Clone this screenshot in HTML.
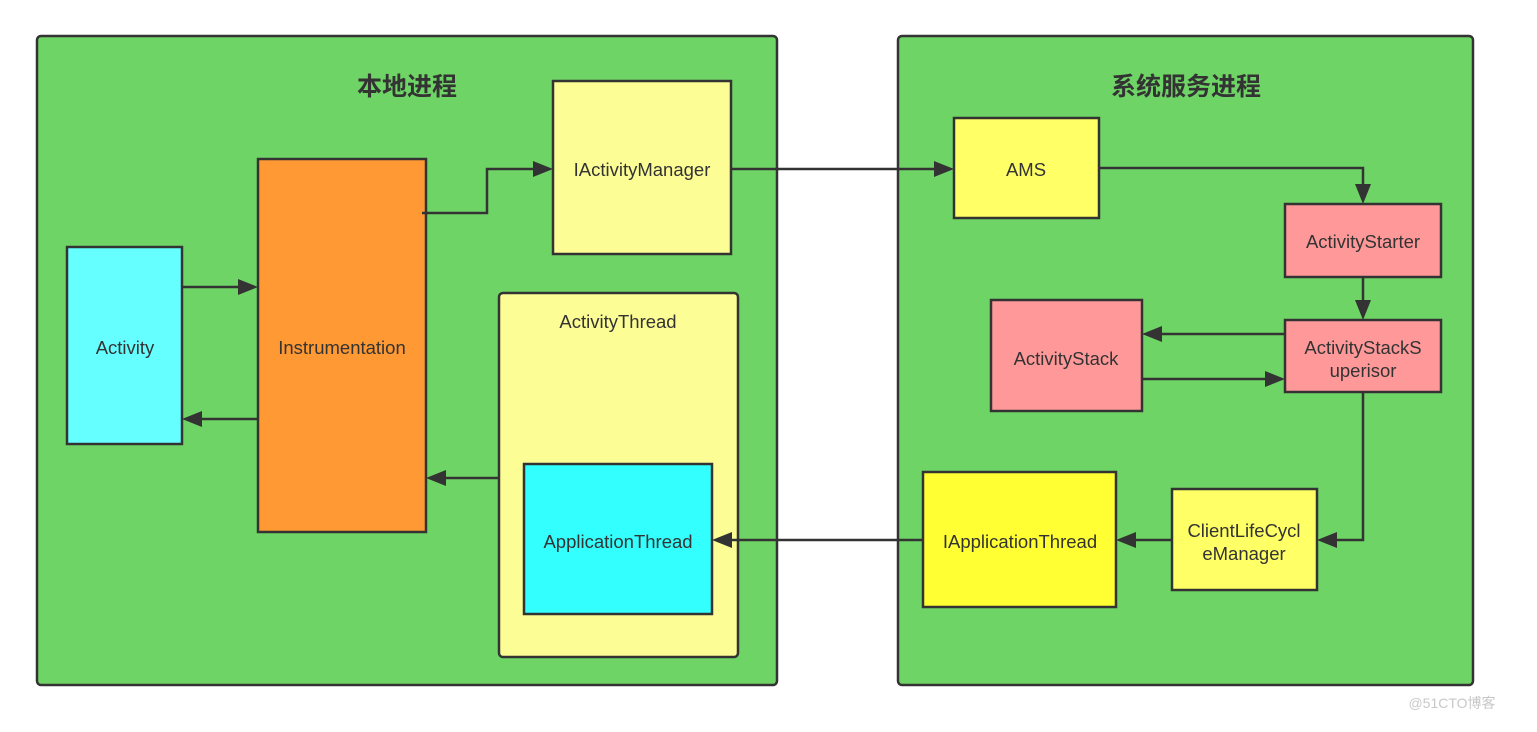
<!DOCTYPE html>
<html><head><meta charset="utf-8"><style>
html,body{margin:0;padding:0;background:#fff;}
svg{display:block;}
text{font-family:"Liberation Sans","Noto Sans CJK SC",sans-serif;fill:#333;}
</style></head><body>
<svg width="1537" height="732" viewBox="0 0 1537 732" xmlns="http://www.w3.org/2000/svg">
<g stroke="#333" stroke-width="2.5">
<rect x="37" y="36" width="740" height="649" rx="4" fill="#6fd466"/>
<rect x="898" y="36" width="575" height="649" rx="4" fill="#6fd466"/>
<rect x="553" y="81" width="178" height="173" fill="#fdfd96"/>
<rect x="67" y="247" width="115" height="197" fill="#66ffff"/>
<rect x="258" y="159" width="168" height="373" fill="#ff9933"/>
<rect x="499" y="293" width="239" height="364" rx="4" fill="#fdfd96"/>
<rect x="524" y="464" width="188" height="150" fill="#33ffff"/>
<rect x="954" y="118" width="145" height="100" fill="#ffff66"/>
<rect x="1285" y="204" width="156" height="73" fill="#ff9999"/>
<rect x="991" y="300" width="151" height="111" fill="#ff9999"/>
<rect x="1285" y="320" width="156" height="72" fill="#ff9999"/>
<rect x="923" y="472" width="193" height="135" fill="#ffff33"/>
<rect x="1172" y="489" width="145" height="101" fill="#ffff66"/>
<g fill="none">
<polyline points="422,213 487,213 487,169 535,169"/>
<line x1="731" y1="169" x2="936" y2="169"/>
<polyline points="1099,168 1363,168 1363,186"/>
<line x1="1363" y1="277" x2="1363" y2="302"/>
<line x1="1285" y1="334" x2="1160" y2="334"/>
<line x1="1142" y1="379" x2="1267" y2="379"/>
<polyline points="1363,392 1363,540 1335,540"/>
<line x1="1172" y1="540" x2="1134" y2="540"/>
<line x1="923" y1="540" x2="730" y2="540"/>
<line x1="499" y1="478" x2="444" y2="478"/>
<line x1="182" y1="287" x2="240" y2="287"/>
<line x1="258" y1="419" x2="200" y2="419"/>
</g>
</g>
<g fill="#333">
<path d="M553,169 l-20,-8 v16z"/>
<path d="M954,169 l-20,-8 v16z"/>
<path d="M1363,204 l-8,-20 h16z"/>
<path d="M1363,320 l-8,-20 h16z"/>
<path d="M1142,334 l20,-8 v16z"/>
<path d="M1285,379 l-20,-8 v16z"/>
<path d="M1317,540 l20,-8 v16z"/>
<path d="M1116,540 l20,-8 v16z"/>
<path d="M712,540 l20,-8 v16z"/>
<path d="M426,478 l20,-8 v16z"/>
<path d="M258,287 l-20,-8 v16z"/>
<path d="M182,419 l20,-8 v16z"/>
</g>
<g font-size="18.5" text-anchor="middle">
<text x="407" y="95" font-size="25" font-weight="bold">本地进程</text>
<text x="1186" y="95" font-size="25" font-weight="bold">系统服务进程</text>
<text x="642" y="176">IActivityManager</text>
<text x="125" y="354">Activity</text>
<text x="342" y="354">Instrumentation</text>
<text x="618" y="328">ActivityThread</text>
<text x="618" y="548">ApplicationThread</text>
<text x="1026" y="176">AMS</text>
<text x="1363" y="248">ActivityStarter</text>
<text x="1066" y="365">ActivityStack</text>
<text x="1363" y="354">ActivityStackS</text>
<text x="1363" y="377">uperisor</text>
<text x="1020" y="548">IApplicationThread</text>
<text x="1244" y="537">ClientLifeCycl</text>
<text x="1244" y="560">eManager</text>
<text x="1452" y="708" font-size="14" style="fill:#c8c8c8">@51CTO博客</text>
</g>
</svg>
</body></html>
